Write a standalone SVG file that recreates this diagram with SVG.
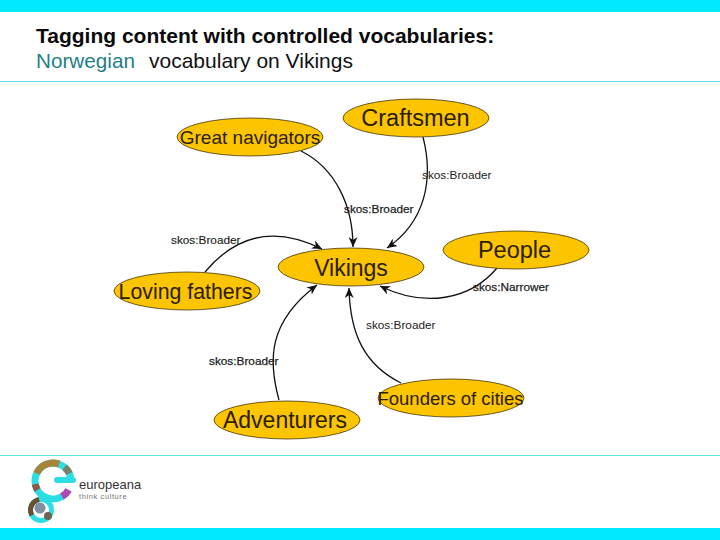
<svg xmlns="http://www.w3.org/2000/svg" width="720" height="540" viewBox="0 0 720 540">
<style>
text{font-family:"Liberation Sans",Arial,sans-serif}
.n ellipse{fill:#fdc400;stroke:#2a2000;stroke-width:.7}
.n text{fill:#2a2000;text-anchor:middle}
.l{font-size:11.800px;fill:#222}
.c path{fill:none;stroke:#111;stroke-width:1.3;marker-end:url(#a)}
.rule{fill:#5fe0ea}
.r1{stroke-width:7}
.r2{stroke-width:5}
</style>
<defs><marker id="a" markerWidth="11" markerHeight="9" refX="10" refY="4.500" orient="auto" markerUnits="userSpaceOnUse"><path d="M0 0L10 4.500L0 9L3 4.500Z" fill="#111"/></marker></defs>
<rect width="720" height="540" fill="#fff"/>
<rect width="720" height="12" fill="#00e8fb"/>
<rect y="528" width="720" height="12" fill="#00e8fb"/>
<rect class="rule" x="0" y="81" width="720" height="1"/>
<rect class="rule" x="0" y="455" width="720" height="1"/>
<text x="36" y="43" font-size="21" font-weight="bold" fill="#0a0a0a">Tagging content with controlled vocabularies:</text>
<text x="36" y="68" font-size="20.700" fill="#1f8088">Norwegian</text>
<text x="149" y="68" font-size="21" fill="#111">vocabulary on Vikings</text>
<g class="c" id="connectors">
<path d="M301 151C335 168 353 205 353 247"/>
<path d="M423 137C434 180 425 222 387 248"/>
<path d="M205 272C240 230 280 228 322 249"/>
<path d="M497 268C470 300 425 308 380 286"/>
<path d="M279 400C268 360 268 322 317 285"/>
<path d="M401 383C365 365 350 335 349 288"/>
</g>
<g class="n" id="craftsmen"><ellipse cx="416" cy="118" rx="73" ry="19"/><text x="415.500" y="126" font-size="23.500">Craftsmen</text></g>
<g class="n" id="navigators"><ellipse cx="250" cy="137" rx="73" ry="19"/><text x="250" y="144" font-size="19">Great navigators</text></g>
<g class="n" id="vikings"><ellipse cx="351" cy="267" rx="73" ry="19"/><text x="351" y="276" font-size="23">Vikings</text></g>
<g class="n" id="people"><ellipse cx="516" cy="250" rx="73" ry="19"/><text x="514.500" y="258" font-size="23.500">People</text></g>
<g class="n" id="fathers"><ellipse cx="187" cy="291" rx="73" ry="19"/><text x="185.500" y="299" font-size="21.300">Loving fathers</text></g>
<g class="n" id="adventurers"><ellipse cx="287" cy="420" rx="73" ry="19"/><text x="285" y="428" font-size="23">Adventurers</text></g>
<g class="n" id="founders"><ellipse cx="451" cy="398" rx="73" ry="19"/><text x="450.500" y="405" font-size="18.500">Founders of cities</text></g>
<text class="l" x="422" y="179">skos:Broader</text>
<text class="l" x="344" y="213" stroke="#222" stroke-width=".25">skos:Broader</text>
<text class="l" x="171" y="244" stroke="#222" stroke-width=".15">skos:Broader</text>
<text class="l" x="473" y="291" stroke="#222" stroke-width=".25">skos:Narrower</text>
<text class="l" x="366" y="329">skos:Broader</text>
<text class="l" x="209" y="365" stroke="#222" stroke-width=".25">skos:Broader</text>
<g id="logo" fill="none">
<circle class="r1" cx="53" cy="481" r="18" pathLength="360" stroke="#2cdde4" stroke-dasharray="320 40" transform="rotate(30 53 481)"/>
<circle class="r1" cx="53" cy="481" r="18" pathLength="360" stroke="#a5853c" stroke-dasharray="85 275" transform="rotate(205 53 481)"/>
<circle class="r1" cx="53" cy="481" r="18" pathLength="360" stroke="#8a5a48" stroke-dasharray="20 340" transform="rotate(150 53 481)"/>
<circle class="r1" cx="53" cy="481" r="18" pathLength="360" stroke="#7b8068" stroke-dasharray="25 335" transform="rotate(310 53 481)"/>
<circle class="r1" cx="53" cy="481" r="18" pathLength="360" stroke="#b048b8" stroke-dasharray="30 330" transform="rotate(30 53 481)"/>
<path d="M57 480H73" stroke="#2cdde4" stroke-width="6" stroke-linecap="round"/>
<circle class="r2" cx="41" cy="510" r="10.500" pathLength="360" stroke="#2cdde4"/>
<circle class="r2" cx="41" cy="510" r="10.500" pathLength="360" stroke="#6a5030" stroke-dasharray="110 250" transform="rotate(150 41 510)"/>
<circle cx="40" cy="508" r="5.500" fill="#8090a0"/>
<circle cx="48" cy="516" r="4" fill="#6a6450"/>
<text x="79" y="489" font-size="13" fill="#333">europeana</text>
<text x="79" y="499" font-size="7.500" fill="#777" letter-spacing=".6">think culture</text>
</g>
</svg>
